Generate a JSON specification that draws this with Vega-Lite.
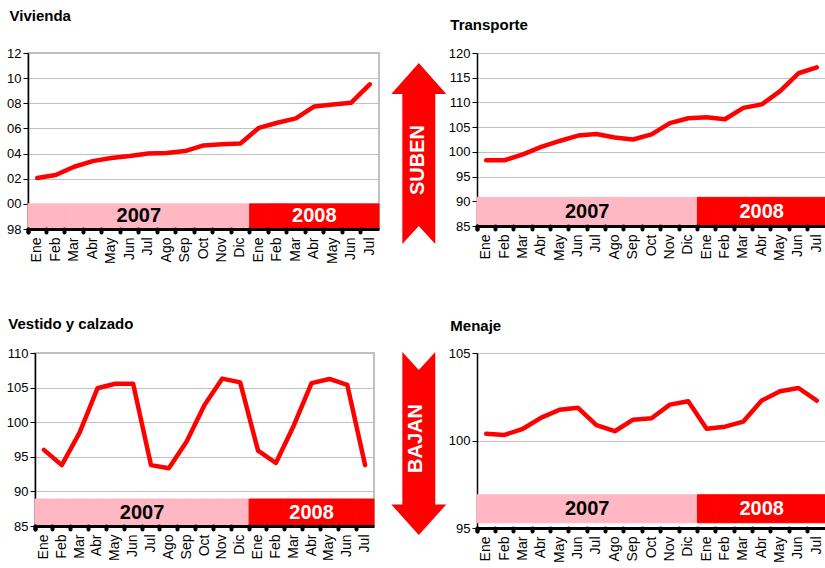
{
  "$schema": "https://vega.github.io/schema/vega-lite/v6.json",
  "padding": {"left": 5, "top": 8, "right": 0, "bottom": 0},
  "background": "white",
  "config": {
    "font": "Liberation Sans",
    "view": {"stroke": null},
    "axis": {"labelFont": "Liberation Sans", "labelColor": "#000", "titleFont": "Liberation Sans", "minExtent": 0, "labelOverlap": false},
    "axisY": {"minExtent": 0},
    "title": {"font": "Liberation Sans", "fontWeight": "bold", "fontSize": 15, "color": "#000", "anchor": "start", "frame": "bounds"}
  },
  "datasets": {
    "d": [
      {"mes": "Ene-07", "anio": "2007", "vivienda": 102.05, "transporte": 98.3, "vestido": 96.0, "menaje": 100.38},
      {"mes": "Feb-07", "anio": "2007", "vivienda": 102.3, "transporte": 98.3, "vestido": 93.8, "menaje": 100.32},
      {"mes": "Mar-07", "anio": "2007", "vivienda": 102.95, "transporte": 99.5, "vestido": 98.5, "menaje": 100.67},
      {"mes": "Abr-07", "anio": "2007", "vivienda": 103.4, "transporte": 101.0, "vestido": 104.9, "menaje": 101.31},
      {"mes": "May-07", "anio": "2007", "vivienda": 103.65, "transporte": 102.2, "vestido": 105.55, "menaje": 101.76},
      {"mes": "Jun-07", "anio": "2007", "vivienda": 103.8, "transporte": 103.3, "vestido": 105.55, "menaje": 101.87},
      {"mes": "Jul-07", "anio": "2007", "vivienda": 104.0, "transporte": 103.6, "vestido": 93.8, "menaje": 100.88},
      {"mes": "Ago-07", "anio": "2007", "vivienda": 104.05, "transporte": 102.9, "vestido": 93.35, "menaje": 100.53},
      {"mes": "Sep-07", "anio": "2007", "vivienda": 104.2, "transporte": 102.5, "vestido": 97.2, "menaje": 101.19},
      {"mes": "Oct-07", "anio": "2007", "vivienda": 104.65, "transporte": 103.55, "vestido": 102.5, "menaje": 101.27},
      {"mes": "Nov-07", "anio": "2007", "vivienda": 104.75, "transporte": 105.8, "vestido": 106.3, "menaje": 102.05},
      {"mes": "Dic-07", "anio": "2007", "vivienda": 104.8, "transporte": 106.8, "vestido": 105.75, "menaje": 102.24},
      {"mes": "Ene-08", "anio": "2008", "vivienda": 106.05, "transporte": 107.0, "vestido": 95.9, "menaje": 100.67},
      {"mes": "Feb-08", "anio": "2008", "vivienda": 106.45, "transporte": 106.6, "vestido": 94.1, "menaje": 100.79},
      {"mes": "Mar-08", "anio": "2008", "vivienda": 106.8, "transporte": 108.9, "vestido": 99.5, "menaje": 101.08},
      {"mes": "Abr-08", "anio": "2008", "vivienda": 107.75, "transporte": 109.6, "vestido": 105.65, "menaje": 102.28},
      {"mes": "May-08", "anio": "2008", "vivienda": 107.9, "transporte": 112.3, "vestido": 106.25, "menaje": 102.81},
      {"mes": "Jun-08", "anio": "2008", "vivienda": 108.05, "transporte": 115.9, "vestido": 105.4, "menaje": 103.0},
      {"mes": "Jul-08", "anio": "2008", "vivienda": 109.5, "transporte": 117.1, "vestido": 93.8, "menaje": 102.28}
    ]
  },
  "spacing": 51,
  "vconcat": [
    {
      "spacing": 0,
      "bounds": "flush",
      "hconcat": [
        {
          "width": 351, "height": 176,
          "title": {"text": "Vivienda", "offset": 23, "dx": 3},
          "view": {"stroke": "#c0c0c0", "strokeWidth": 2},
          "data": {"name": "d"},
          "encoding": {
            "x": {"field": "mes", "type": "nominal",
              "scale": {"type": "band", "paddingInner": 0, "paddingOuter": 0, "domain": ["Ene-07","Feb-07","Mar-07","Abr-07","May-07","Jun-07","Jul-07","Ago-07","Sep-07","Oct-07","Nov-07","Dic-07","Ene-08","Feb-08","Mar-08","Abr-08","May-08","Jun-08","Jul-08"]},
              "axis": {"title": null, "labelAngle": 270, "labelExpr": "split(datum.label,'-')[0]", "bandPosition": 0, "tickExtra": true, "tickSize": 3, "tickWidth": 4, "tickCap": "round", "tickColor": "#000", "domainColor": "#000", "domainWidth": 3, "labelFontSize": 14, "labelPadding": 5, "zindex": 1, "grid": false}}
          },
          "layer": [
            {"mark": {"type": "bar", "strokeWidth": 1},
             "encoding": {"y": {"datum": 98, "type": "quantitative"}, "y2": {"datum": 100},
               "fill": {"field": "anio", "type": "nominal", "scale": {"domain": ["2007","2008"], "range": ["#FFB7C3","#FF0000"]}, "legend": null},
               "stroke": {"field": "anio", "type": "nominal", "scale": {"domain": ["2007","2008"], "range": ["#FFB7C3","#FF0000"]}, "legend": null}}},
            {"mark": {"type": "line", "color": "#FF0000", "strokeWidth": 4.5, "strokeCap": "round", "strokeJoin": "round"},
             "encoding": {"y": {"field": "vivienda", "type": "quantitative", "scale": {"domain": [98, 112], "nice": false, "zero": false},
               "axis": {"title": null, "values": [98,100,102,104,106,108,110,112], "tickCount": 50, "minExtent": 0, "labelOverlap": false, "labelExpr": "(datum.value % 100 < 10 ? '0' : '') + (datum.value % 100)", "grid": true, "gridColor": "#c0c0c0", "gridWidth": 1, "domainColor": "#000", "domainWidth": 1.5, "tickColor": "#000", "tickSize": 5, "labelFontSize": 13, "labelPadding": 2}}}},
            {"transform": [{"filter": "datum.mes == 'Jul-07'"}],
             "mark": {"type": "text", "fontSize": 20, "fontWeight": "bold", "color": "#000", "align": "center", "baseline": "middle"},
             "encoding": {"x": {"field": "mes", "type": "nominal", "bandPosition": 0}, "y": {"datum": 99, "type": "quantitative"}, "text": {"value": "2007"}}},
            {"transform": [{"filter": "datum.mes == 'Abr-08'"}],
             "mark": {"type": "text", "fontSize": 20, "fontWeight": "bold", "color": "#fff", "align": "center", "baseline": "middle"},
             "encoding": {"y": {"datum": 99, "type": "quantitative"}, "text": {"value": "2008"}}}
          ]
        },
        {
          "width": 97.3, "height": 176,
          "data": {"values": [{"t": "SUBEN"}]},
          "layer": [
            {"mark": {"type": "point", "shape": "M0,-1L0.304,-0.657L0.182,-0.657L0.182,1L0,0.8L-0.182,1L-0.182,-0.657L-0.304,-0.657Z", "size": 32761, "filled": true, "color": "#FF0000", "opacity": 1, "strokeWidth": 0},
             "encoding": {"x": {"datum": 0.409, "type": "quantitative", "scale": {"domain": [0, 1]}, "axis": null}, "y": {"datum": 0.429, "type": "quantitative", "scale": {"domain": [0, 1]}, "axis": null}}},
            {"mark": {"type": "text", "angle": 270, "color": "#fff", "fontSize": 20, "fontWeight": "bold", "align": "center", "baseline": "middle"},
             "encoding": {"x": {"datum": 0.401, "type": "quantitative"}, "y": {"datum": 0.392, "type": "quantitative"}, "text": {"field": "t"}}}
          ]
        },
        {
          "width": 349, "height": 173,
          "title": {"text": "Transporte", "offset": 14.5, "dx": 2},
          "data": {"name": "d"},
          "encoding": {
            "x": {"field": "mes", "type": "nominal",
              "scale": {"type": "band", "paddingInner": 0, "paddingOuter": 0, "domain": ["Ene-07","Feb-07","Mar-07","Abr-07","May-07","Jun-07","Jul-07","Ago-07","Sep-07","Oct-07","Nov-07","Dic-07","Ene-08","Feb-08","Mar-08","Abr-08","May-08","Jun-08","Jul-08"]},
              "axis": {"title": null, "labelAngle": 270, "labelExpr": "split(datum.label,'-')[0]", "bandPosition": 0, "tickExtra": true, "tickSize": 3, "tickWidth": 4, "tickCap": "round", "tickColor": "#000", "domainColor": "#000", "domainWidth": 3, "labelFontSize": 14, "labelPadding": 5, "zindex": 1, "grid": false}}
          },
          "layer": [
            {"mark": {"type": "bar", "strokeWidth": 1},
             "encoding": {"y": {"datum": 85, "type": "quantitative"}, "y2": {"datum": 90.8},
               "fill": {"field": "anio", "type": "nominal", "scale": {"domain": ["2007","2008"], "range": ["#FFB7C3","#FF0000"]}, "legend": null},
               "stroke": {"field": "anio", "type": "nominal", "scale": {"domain": ["2007","2008"], "range": ["#FFB7C3","#FF0000"]}, "legend": null}}},
            {"mark": {"type": "line", "color": "#FF0000", "strokeWidth": 4.5, "strokeCap": "round", "strokeJoin": "round"},
             "encoding": {"y": {"field": "transporte", "type": "quantitative", "scale": {"domain": [85, 120], "nice": false, "zero": false},
               "axis": {"title": null, "values": [85,90,95,100,105,110,115,120], "format": "d", "tickCount": 50, "minExtent": 0, "labelOverlap": false, "grid": true, "gridColor": "#c0c0c0", "gridWidth": 1, "domainColor": "#000", "domainWidth": 1.5, "tickColor": "#000", "tickSize": 5, "labelFontSize": 13, "labelPadding": 2}}}},
            {"transform": [{"filter": "datum.mes == 'Jul-07'"}],
             "mark": {"type": "text", "fontSize": 20, "fontWeight": "bold", "color": "#000", "align": "center", "baseline": "middle"},
             "encoding": {"x": {"field": "mes", "type": "nominal", "bandPosition": 0}, "y": {"datum": 87.85, "type": "quantitative"}, "text": {"value": "2007"}}},
            {"transform": [{"filter": "datum.mes == 'Abr-08'"}],
             "mark": {"type": "text", "fontSize": 20, "fontWeight": "bold", "color": "#fff", "align": "center", "baseline": "middle"},
             "encoding": {"y": {"datum": 87.85, "type": "quantitative"}, "text": {"value": "2008"}}}
          ]
        }
      ]
    },
    {
      "spacing": 0,
      "bounds": "flush",
      "hconcat": [
        {
          "width": 7, "height": 10,
          "data": {"values": [{"t": ""}]},
          "mark": {"type": "text"},
          "encoding": {"text": {"field": "t"}}
        },
        {
          "width": 339, "height": 173,
          "title": {"text": "Vestido y calzado", "offset": 15, "dx": 2},
          "view": {"stroke": "#c0c0c0", "strokeWidth": 2},
          "data": {"name": "d"},
          "encoding": {
            "x": {"field": "mes", "type": "nominal",
              "scale": {"type": "band", "paddingInner": 0, "paddingOuter": 0, "domain": ["Ene-07","Feb-07","Mar-07","Abr-07","May-07","Jun-07","Jul-07","Ago-07","Sep-07","Oct-07","Nov-07","Dic-07","Ene-08","Feb-08","Mar-08","Abr-08","May-08","Jun-08","Jul-08"]},
              "axis": {"title": null, "labelAngle": 270, "labelExpr": "split(datum.label,'-')[0]", "bandPosition": 0, "tickExtra": true, "tickSize": 3, "tickWidth": 4, "tickCap": "round", "tickColor": "#000", "domainColor": "#000", "domainWidth": 3, "labelFontSize": 14, "labelPadding": 5, "zindex": 1, "grid": false}}
          },
          "layer": [
            {"mark": {"type": "bar", "strokeWidth": 1},
             "encoding": {"y": {"datum": 85, "type": "quantitative"}, "y2": {"datum": 88.9},
               "fill": {"field": "anio", "type": "nominal", "scale": {"domain": ["2007","2008"], "range": ["#FFB7C3","#FF0000"]}, "legend": null},
               "stroke": {"field": "anio", "type": "nominal", "scale": {"domain": ["2007","2008"], "range": ["#FFB7C3","#FF0000"]}, "legend": null}}},
            {"mark": {"type": "line", "color": "#FF0000", "strokeWidth": 4.5, "strokeCap": "round", "strokeJoin": "round"},
             "encoding": {"y": {"field": "vestido", "type": "quantitative", "scale": {"domain": [85, 110], "nice": false, "zero": false},
               "axis": {"title": null, "values": [85,90,95,100,105,110], "format": "d", "tickCount": 50, "minExtent": 0, "labelOverlap": false, "grid": true, "gridColor": "#c0c0c0", "gridWidth": 1, "domainColor": "#000", "domainWidth": 1.5, "tickColor": "#000", "tickSize": 5, "labelFontSize": 13, "labelPadding": 2}}}},
            {"transform": [{"filter": "datum.mes == 'Jul-07'"}],
             "mark": {"type": "text", "fontSize": 20, "fontWeight": "bold", "color": "#000", "align": "center", "baseline": "middle"},
             "encoding": {"x": {"field": "mes", "type": "nominal", "bandPosition": 0}, "y": {"datum": 86.95, "type": "quantitative"}, "text": {"value": "2007"}}},
            {"transform": [{"filter": "datum.mes == 'Abr-08'"}],
             "mark": {"type": "text", "fontSize": 20, "fontWeight": "bold", "color": "#fff", "align": "center", "baseline": "middle"},
             "encoding": {"y": {"datum": 86.95, "type": "quantitative"}, "text": {"value": "2008"}}}
          ]
        },
        {
          "width": 102.3, "height": 173,
          "data": {"values": [{"t": "BAJAN"}]},
          "layer": [
            {"mark": {"type": "point", "shape": "M-0.18,-1L0,-0.803L0.18,-1L0.18,0.667L0.3,0.667L0,1L-0.3,0.667L-0.18,0.667Z", "size": 33489, "filled": true, "color": "#FF0000", "opacity": 1, "strokeWidth": 0},
             "encoding": {"x": {"datum": 0.438, "type": "quantitative", "scale": {"domain": [0, 1]}, "axis": null}, "y": {"datum": 0.477, "type": "quantitative", "scale": {"domain": [0, 1]}, "axis": null}}},
            {"mark": {"type": "text", "angle": 270, "color": "#fff", "fontSize": 20, "fontWeight": "bold", "align": "center", "baseline": "middle"},
             "encoding": {"x": {"datum": 0.415, "type": "quantitative"}, "y": {"datum": 0.506, "type": "quantitative"}, "text": {"field": "t"}}}
          ]
        },
        {
          "width": 349, "height": 175,
          "title": {"text": "Menaje", "offset": 13, "dx": 2},
          "data": {"name": "d"},
          "encoding": {
            "x": {"field": "mes", "type": "nominal",
              "scale": {"type": "band", "paddingInner": 0, "paddingOuter": 0, "domain": ["Ene-07","Feb-07","Mar-07","Abr-07","May-07","Jun-07","Jul-07","Ago-07","Sep-07","Oct-07","Nov-07","Dic-07","Ene-08","Feb-08","Mar-08","Abr-08","May-08","Jun-08","Jul-08"]},
              "axis": {"title": null, "labelAngle": 270, "labelExpr": "split(datum.label,'-')[0]", "bandPosition": 0, "tickExtra": true, "tickSize": 3, "tickWidth": 4, "tickCap": "round", "tickColor": "#000", "domainColor": "#000", "domainWidth": 3, "labelFontSize": 14, "labelPadding": 5, "zindex": 1, "grid": false}}
          },
          "layer": [
            {"mark": {"type": "bar", "strokeWidth": 1},
             "encoding": {"y": {"datum": 95.3, "type": "quantitative"}, "y2": {"datum": 96.9},
               "fill": {"field": "anio", "type": "nominal", "scale": {"domain": ["2007","2008"], "range": ["#FFB7C3","#FF0000"]}, "legend": null},
               "stroke": {"field": "anio", "type": "nominal", "scale": {"domain": ["2007","2008"], "range": ["#FFB7C3","#FF0000"]}, "legend": null}}},
            {"mark": {"type": "line", "color": "#FF0000", "strokeWidth": 4.5, "strokeCap": "round", "strokeJoin": "round"},
             "encoding": {"y": {"field": "menaje", "type": "quantitative", "scale": {"domain": [95, 105], "nice": false, "zero": false},
               "axis": {"title": null, "values": [95,100,105], "format": "d", "tickCount": 50, "minExtent": 0, "labelOverlap": false, "grid": true, "gridColor": "#c0c0c0", "gridWidth": 1, "domainColor": "#000", "domainWidth": 1.5, "tickColor": "#000", "tickSize": 5, "labelFontSize": 13, "labelPadding": 2}}}},
            {"transform": [{"filter": "datum.mes == 'Jul-07'"}],
             "mark": {"type": "text", "fontSize": 20, "fontWeight": "bold", "color": "#000", "align": "center", "baseline": "middle"},
             "encoding": {"x": {"field": "mes", "type": "nominal", "bandPosition": 0}, "y": {"datum": 96.1, "type": "quantitative"}, "text": {"value": "2007"}}},
            {"transform": [{"filter": "datum.mes == 'Abr-08'"}],
             "mark": {"type": "text", "fontSize": 20, "fontWeight": "bold", "color": "#fff", "align": "center", "baseline": "middle"},
             "encoding": {"y": {"datum": 96.1, "type": "quantitative"}, "text": {"value": "2008"}}}
          ]
        }
      ]
    }
  ]
}
